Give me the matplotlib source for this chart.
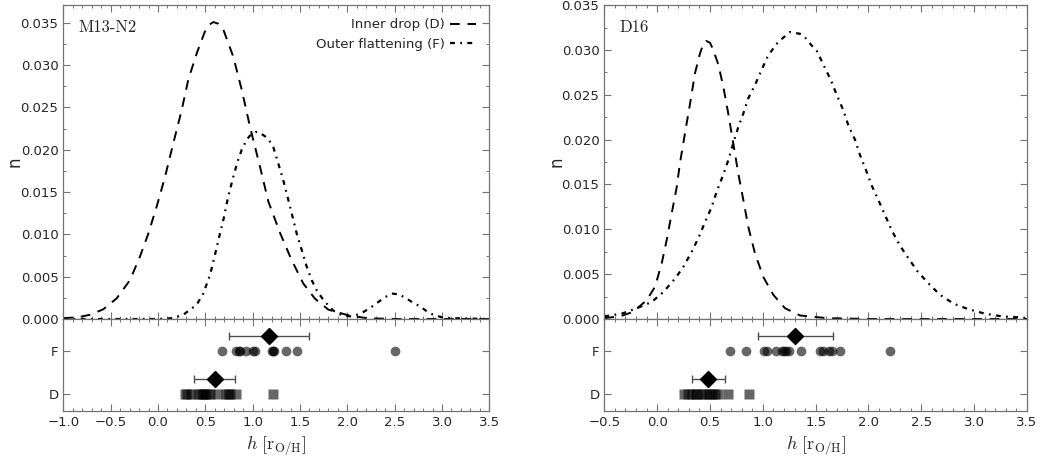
import matplotlib
matplotlib.use("Agg")
import matplotlib.pyplot as plt
from matplotlib.ticker import MultipleLocator

plt.rcParams["mathtext.fontset"] = "cm"
plt.rcParams["font.family"] = ["DejaVu Sans"]

# ---- M13-N2 panel: density curves ----
m13_d_x = [-1.0, -0.85, -0.717, -0.578, -0.436, -0.296, -0.19, -0.102, -0.014, 0.074, 0.162, 0.25, 0.32,
           0.409, 0.496, 0.545, 0.584, 0.635, 0.69, 0.795, 0.884, 0.972, 1.077, 1.165, 1.288, 1.41, 1.534,
           1.658, 1.80, 1.99, 2.2, 2.5, 3.0, 3.5]
m13_d_y = [0.0001, 0.0002, 0.0005, 0.00115, 0.00245, 0.0046, 0.0074, 0.0101, 0.0133, 0.0168, 0.0208, 0.0247,
           0.0283, 0.0314, 0.0340, 0.0348, 0.0351, 0.0349, 0.0342, 0.0310, 0.0271, 0.0227, 0.0180, 0.0139,
           0.0102, 0.0070, 0.0042, 0.0024, 0.0011, 0.0005, 0.0001, 0.0, 0.0, 0.0]
m13_f_x = [-1.0, -0.5, 0.0, 0.15, 0.267, 0.409, 0.478, 0.549, 0.602, 0.637, 0.69, 0.742, 0.795, 0.84, 0.884,
           0.937, 0.989, 1.03, 1.06, 1.13, 1.175, 1.218, 1.27, 1.323, 1.376, 1.412, 1.465, 1.517, 1.57, 1.623,
           1.676, 1.75, 1.85, 1.95, 2.05, 2.15, 2.24, 2.326, 2.40, 2.48, 2.55, 2.626, 2.70, 2.767, 2.84, 2.907,
           3.0, 3.1, 3.5]
m13_f_y = [0.0, 0.0, 0.0, 0.0001, 0.0005, 0.0017, 0.0030, 0.0052, 0.0076, 0.0093, 0.0117, 0.0145, 0.0168,
           0.0186, 0.0200, 0.0212, 0.0219, 0.0221, 0.0221, 0.0216, 0.0211, 0.0203, 0.0184, 0.0164, 0.0141,
           0.0125, 0.0101, 0.0082, 0.0062, 0.0046, 0.0034, 0.0022, 0.0010, 0.0004, 0.0003, 0.0007, 0.0013,
           0.0020, 0.0026, 0.0030, 0.0029, 0.0024, 0.0019, 0.0015, 0.0009, 0.0005, 0.0002, 0.0001, 0.0]

# ---- D16 panel ----
d16_d_x = [-0.5, -0.35, -0.226, -0.099, -0.02, 0.043, 0.09, 0.138, 0.185, 0.216, 0.263, 0.311, 0.358, 0.405,
           0.435, 0.465, 0.50, 0.531, 0.578, 0.626, 0.673, 0.72, 0.768, 0.815, 0.862, 0.926, 1.004, 1.099,
           1.21, 1.35, 1.6, 2.0, 3.5]
d16_d_y = [0.0001, 0.0003, 0.0008, 0.0021, 0.0036, 0.0062, 0.0088, 0.0118, 0.0147, 0.0174, 0.0207, 0.0240,
           0.0274, 0.0296, 0.0306, 0.0310, 0.0308, 0.0300, 0.0284, 0.0259, 0.0229, 0.0196, 0.0162, 0.0133,
           0.0103, 0.0073, 0.0047, 0.0027, 0.0012, 0.0004, 0.0001, 0.0, 0.0]
d16_f_x = [-0.5, -0.335, -0.193, -0.052, 0.058, 0.169, 0.247, 0.327, 0.389, 0.453, 0.516, 0.563, 0.626, 0.673,
           0.72, 0.768, 0.815, 0.862, 0.926, 0.989, 1.051, 1.146, 1.257, 1.351, 1.399, 1.462, 1.51, 1.572,
           1.645, 1.699, 1.761, 1.809, 1.872, 1.919, 1.976, 2.03, 2.092, 2.156, 2.219, 2.297, 2.376, 2.465,
           2.565, 2.676, 2.808, 2.944, 3.10, 3.26, 3.40, 3.5]
d16_f_y = [0.0003, 0.0006, 0.0012, 0.0019, 0.0030, 0.0045, 0.0058, 0.0075, 0.0090, 0.0108, 0.0125, 0.0142,
           0.0161, 0.0177, 0.0196, 0.0214, 0.0229, 0.0246, 0.0261, 0.0278, 0.0294, 0.0309, 0.0320, 0.0318,
           0.0314, 0.0305, 0.0299, 0.0284, 0.0266, 0.0250, 0.0233, 0.0216, 0.0200, 0.0183, 0.0166, 0.0149,
           0.0133, 0.0116, 0.0099, 0.0082, 0.0068, 0.0053, 0.0040, 0.0027, 0.0017, 0.0011, 0.0006, 0.0003,
           0.0002, 0.0001]

# ---- individual measurements and mean +/- spread ----
m13_f_pts = [0.68, 0.82, 0.86, 0.87, 0.93, 1.0, 1.02, 1.2, 1.21, 1.22, 1.35, 1.47, 2.50]
m13_d_pts = [0.28, 0.31, 0.35, 0.42, 0.45, 0.47, 0.50, 0.52, 0.55, 0.62, 0.72, 0.74, 0.76, 0.82, 1.21]
m13_mean = [0.60, 1.175]  # D, F
m13_err = [0.217, 0.425]

d16_f_pts = [0.69, 0.84, 1.01, 1.04, 1.12, 1.18, 1.20, 1.22, 1.25, 1.36, 1.54, 1.57, 1.63, 1.65, 1.73, 2.20]
d16_d_pts = [0.25, 0.29, 0.33, 0.37, 0.38, 0.42, 0.46, 0.49, 0.52, 0.55, 0.58, 0.67, 0.87]
d16_mean = [0.484, 1.307]
d16_err = [0.155, 0.355]

panels = [
    dict(name="M13-N2", xlim=(-1.0, 3.5), ylim=(0, 0.0371), left=0.0605, width=0.4069,
         d=(m13_d_x, m13_d_y), f=(m13_f_x, m13_f_y), dpts=m13_d_pts, fpts=m13_f_pts,
         mean=m13_mean, err=m13_err, legend=True),
    dict(name="D16", xlim=(-0.5, 3.5), ylim=(0, 0.035), left=0.5772, width=0.4037,
         d=(d16_d_x, d16_d_y), f=(d16_f_x, d16_f_y), dpts=d16_d_pts, fpts=d16_f_pts,
         mean=d16_mean, err=d16_err, legend=False),
]

spine_c = "0.45"
text_c = "0.15"
f_dash = (0, (2.2, 2.4, 0.8, 2.4))

fig = plt.figure(figsize=(10.47, 4.63), dpi=100)


def style_axes(ax):
    for s in ax.spines.values():
        s.set_color(spine_c)
        s.set_linewidth(0.9)
    ax.tick_params(which="both", direction="in", top=True, right=True, colors=spine_c,
                   labelcolor=text_c, labelsize=9.5)
    ax.tick_params(which="major", length=5, width=0.8)
    ax.tick_params(which="minor", length=2.5, width=0.7)


for p in panels:
    ax = fig.add_axes([p["left"], 0.311, p["width"], 0.678])
    ax2 = fig.add_axes([p["left"], 0.1123, p["width"], 0.1987], sharex=ax)

    ax.plot(p["d"][0], p["d"][1], color="black", lw=1.4, ls=(0, (5, 4)), label="Inner drop (D)")
    ax.plot(p["f"][0], p["f"][1], color="black", lw=1.6, ls=f_dash, label="Outer flattening (F)")
    ax.set_xlim(*p["xlim"])
    ax.set_ylim(*p["ylim"])
    ax.xaxis.set_major_locator(MultipleLocator(0.5))
    ax.xaxis.set_minor_locator(MultipleLocator(0.1))
    ax.yaxis.set_major_locator(MultipleLocator(0.005))
    ax.yaxis.set_minor_locator(MultipleLocator(0.0025))
    style_axes(ax)
    ax.tick_params(labelbottom=False)
    ax.set_ylabel("n", fontsize=12, color=text_c)
    ax.yaxis.set_label_coords(-0.093, 0.5)
    ax.text(0.035, 0.955, p["name"], transform=ax.transAxes, ha="left", va="top",
            fontsize=12, family="cmr10", color=text_c)
    if p["legend"]:
        ax.legend(loc="upper right", frameon=False, markerfirst=False, fontsize=9.5,
                  handlelength=2.0, handletextpad=0.4, labelspacing=0.5,
                  borderaxespad=0.6, labelcolor=text_c)

    # strip of individual values
    ax2.plot(p["fpts"], [1] * len(p["fpts"]), "o", color="black", alpha=0.6, ms=7, mec="none")
    ax2.plot(p["dpts"], [0] * len(p["dpts"]), "s", color="black", alpha=0.6, ms=7, mec="none")
    ax2.errorbar(p["mean"], [0.35, 1.35], xerr=p["err"], fmt="D", color="black", ms=8,
                 ecolor="0.3", elinewidth=1.0, capsize=3, capthick=1.0)
    ax2.set_ylim(-0.38, 1.73)
    ax2.set_yticks([0, 1])
    ax2.set_yticklabels(["D", "F"])
    style_axes(ax2)
    ax2.set_xlabel(r"$h\ [\mathrm{r_{O/H}}]$", fontsize=13, color=text_c)

fig.savefig("out.png", dpi=100)
